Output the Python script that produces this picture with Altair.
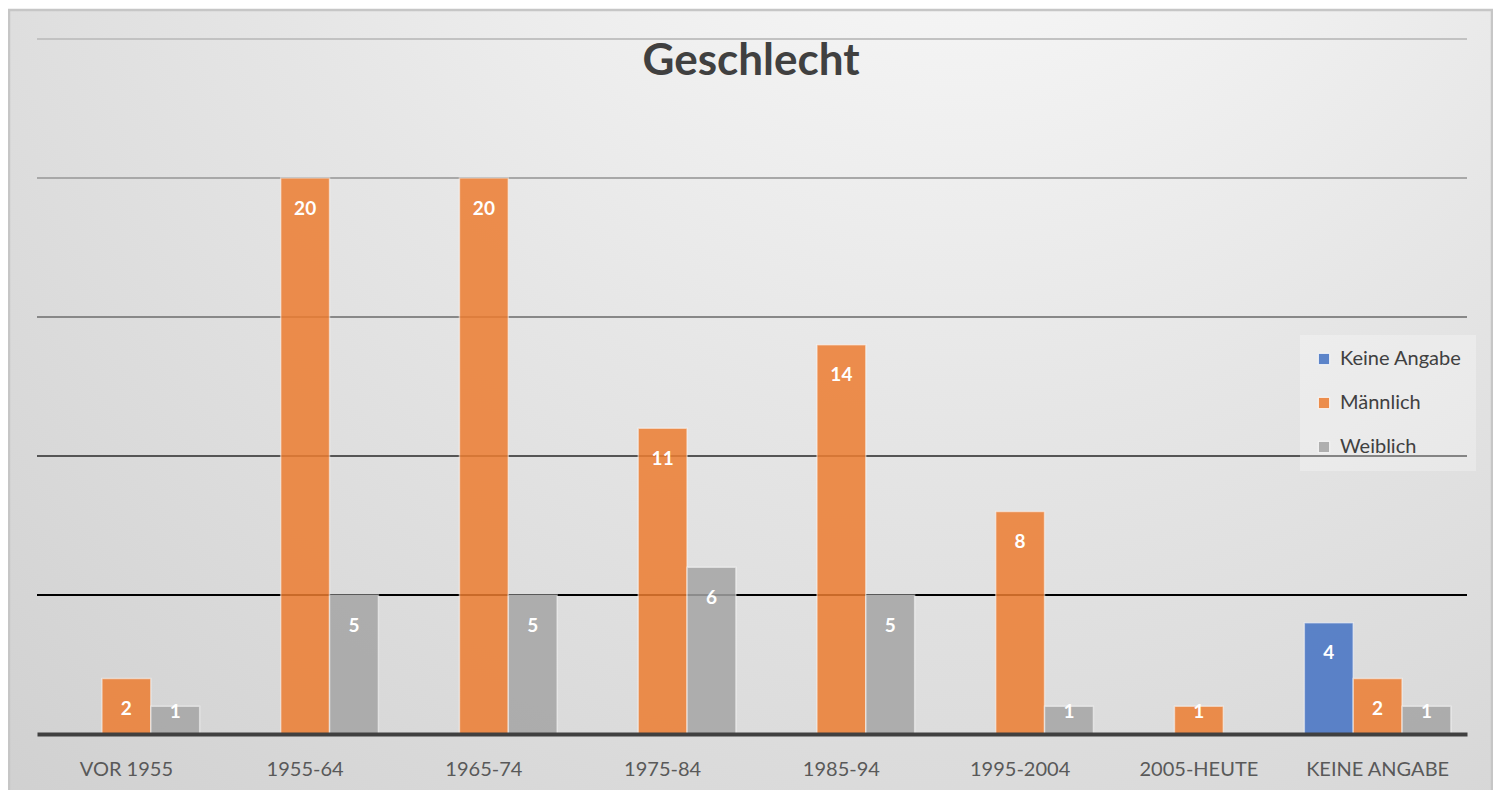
import altair as alt
import pandas as pd

categories = ["VOR 1955", "1955-64", "1965-74", "1975-84", "1985-94", "1995-2004", "2005-HEUTE", "KEINE ANGABE"]
series = ["Keine Angabe", "Männlich", "Weiblich"]
keine_angabe = [None, None, None, None, None, None, None, 4]
maennlich = [2, 20, 20, 11, 14, 8, 1, 2]
weiblich = [1, 5, 5, 6, 5, 1, None, 1]
colors = ["#4472C4", "#ED7D31", "#A5A5A5"]
grid_values = [5, 10, 15, 20, 25]
title_text = ["Geschlecht"]

rows = []
for vals, s in zip([keine_angabe, maennlich, weiblich], series):
    for c, v in zip(categories, vals):
        if v is not None:
            rows.append({"Kategorie": c, "Serie": s, "Wert": v})
df = pd.DataFrame(rows)

W, H = 1430, 695
FONT = "Lato"
yscale = alt.Scale(domain=[0, 25], nice=False)

bg = alt.Chart(pd.DataFrame({"a": [0]})).mark_rect(
    fill=alt.RadialGradient(
        gradient="radial", x1=0.64, y1=0.0, r1=0.0, x2=0.64, y2=0.0, r2=1.0,
        stops=[alt.GradientStop(offset=0, color="#ffffff"),
               alt.GradientStop(offset=0.5, color="#e6e6e6"),
               alt.GradientStop(offset=1, color="#d0d0d0")]),
    stroke="#c6c6c6", strokeWidth=2.5, clip=False,
).encode(x=alt.value(-28), x2=alt.value(W + 25), y=alt.value(-29), y2=alt.value(H + 90))

grid = alt.Chart(pd.DataFrame({"g": grid_values})).mark_rule(strokeWidth=2).encode(
    y=alt.Y("g:Q", scale=yscale, axis=None),
    stroke={"condition": [
        {"test": "datum.g === 5", "value": "#000000"},
        {"test": "datum.g === 10", "value": "#555555"},
        {"test": "datum.g === 15", "value": "#888888"},
        {"test": "datum.g === 20", "value": "#a8a8a8"}],
        "value": "#c2c2c2"},
)

x = alt.X("Kategorie:N", sort=categories, title=None,
          scale=alt.Scale(paddingInner=0.18, paddingOuter=0.09),
          axis=alt.Axis(labelAngle=0, labelFontSize=20, labelColor="#595959", labelFont=FONT,
                        labelPadding=25, ticks=False, domainColor="#404040", domainWidth=4,
                        grid=False, zindex=1))
y = alt.Y("Wert:Q", title=None, scale=yscale, axis=None)
xo = alt.XOffset("Serie:N", sort=series, scale=alt.Scale(domain=series, paddingInner=0.0))

bars = alt.Chart(df).mark_bar(opacity=0.85, stroke="#ffffff", strokeOpacity=0.55, strokeWidth=1.5).encode(
    x=x, y=y, xOffset=xo,
    color=alt.Color("Serie:N", sort=series,
                    scale=alt.Scale(domain=series, range=colors),
                    legend=alt.Legend(title=None, orient="none", legendX=1263, legendY=296,
                                      fillColor="rgba(255,255,255,0.28)", padding=14,
                                      symbolType="square", symbolSize=130, symbolOpacity=0.85,
                                      symbolStrokeColor="#ffffff", symbolStrokeWidth=1,
                                      labelFont=FONT, labelFontSize=20, labelColor="#404040",
                                      rowPadding=24, labelOffset=6)),
)

labels = alt.Chart(df).transform_calculate(
    ly="datum.Wert >= 2 ? datum.Wert - 1.1 : datum.Wert - 0.22"
).mark_text(color="white", fontWeight="bold", fontSize=19, font=FONT, baseline="middle").encode(
    x=alt.X("Kategorie:N", sort=categories), y=alt.Y("ly:Q", scale=yscale), xOffset=xo,
    text=alt.Text("Wert:Q"),
)

title = alt.Chart(pd.DataFrame({"t": title_text})).mark_text(
    font=FONT, fontSize=44, fontWeight="bold", color="#404040", baseline="middle", align="center"
).encode(x=alt.value(W / 2 - 1), y=alt.value(23), text="t:N")

chart = alt.layer(bg, grid, bars, labels, title).properties(
    width=W, height=H,
    autosize=alt.AutoSizeParams(type="none"),
    padding={"left": 29, "top": 31, "right": 26, "bottom": 60},
).configure_view(stroke=None).configure(background="white")

chart.save("out.html", embed_options={"renderer": "svg", "actions": False})
